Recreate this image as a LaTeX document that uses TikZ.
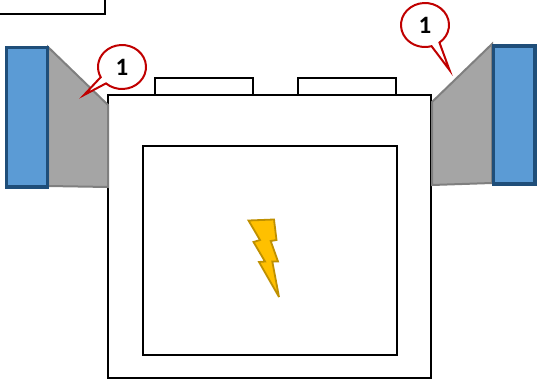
\documentclass[tikz,border=0pt]{standalone}
\usepackage{fontspec}
\setmainfont{Carlito}
\usepackage{xcolor}
\usepackage{tikz}
\usetikzlibrary{calc}
\definecolor{panelblue}{HTML}{5B9BD5}
\definecolor{paneledge}{HTML}{1F4E79}
\definecolor{ductgray}{HTML}{A5A5A5}
\definecolor{ductedge}{HTML}{7F7F7F}
\definecolor{boltfill}{HTML}{FFC000}
\definecolor{boltedge}{HTML}{BF9000}
\definecolor{tagred}{HTML}{C00000}
\newcommand{\tagrx}{24}
\newcommand{\tagry}{22}

\begin{document}
\begin{tikzpicture}[x=1pt, y=1pt, line join=miter,
    box/.style={draw=black, line width=2pt, fill=white},
    panel/.style={draw=paneledge, line width=3.2pt, fill=panelblue},
    duct/.style={draw=ductedge, line width=2pt, fill=ductgray},
    tagline/.style={draw=tagred, line width=2pt, fill=white},
    taglabel/.style={font=\fontsize{25}{25}\selectfont\bfseries, inner sep=0pt}]
  \useasboundingbox (0,0) rectangle (537,381);
  % ================================================================
  % housing
  % ================================================================
  \begin{scope}
    \clip (0,0) rectangle (537,381);
    \draw[box] (-5,367) rectangle (105,395);
  \end{scope}
  \draw[box] (155,286) rectangle (253,303);
  \draw[box] (298,286) rectangle (396,303);
  \draw[box] (108,3) rectangle (431,286);
  \draw[box] (143,26) rectangle (397,235);
  % side ducts and panels ------------------------------------------
  \draw[duct] (48,334) -- (108,276) -- (108,194) -- (48,195) -- cycle;
  \draw[duct] (432,279) -- (492,337) -- (492,198) -- (432,196) -- cycle;
  \draw[panel] (6.5,194) rectangle (47.5,333.5);
  \draw[panel] (493.5,197) rectangle (535,335);
  % bolt -----------------------------------------------------------
  \draw[draw=boltedge, line width=1.8pt, fill=boltfill, miter limit=3]
    (248.5,160.5) -- (274,161.5) -- (276.5,141) -- (270.7,140) -- (278,119.5)
    -- (272.3,119.5) -- (279,84) -- (259,119) -- (265,119.5)
    -- (253.5,139) -- (260,141) -- cycle;
  % callouts -------------------------------------------------------
  \draw[tagline] (84,286) -- ($(122,314)+(228.2:\tagrx pt and \tagry pt)$)
    arc[start angle=228.2, end angle=567.5, x radius=\tagrx, y radius=\tagry] -- cycle;
  \node[taglabel] (tagleft) at (122,314) {1};
  \draw[tagline] (449.5,311) -- ($(425,356)+(307:\tagrx pt and \tagry pt)$)
    arc[start angle=307, end angle=645.8, x radius=\tagrx, y radius=\tagry] -- cycle;
  \node[taglabel] (tagright) at (425,356) {1};
\end{tikzpicture}
\end{document}
